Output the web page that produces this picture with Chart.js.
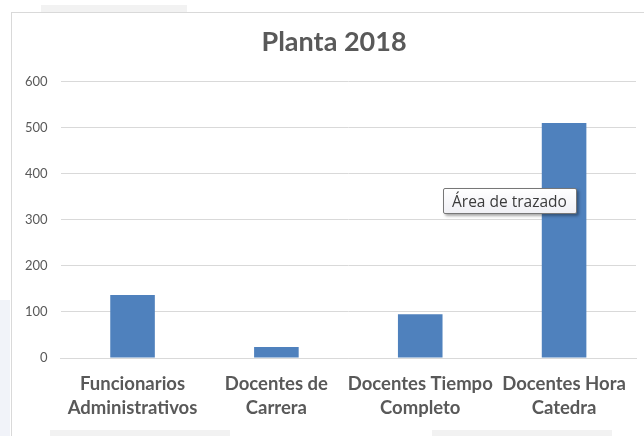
<!DOCTYPE html>
<html>
<head>
<meta charset="utf-8">
<script src="https://cdn.jsdelivr.net/npm/chart.js@4"></script>
<style>
  html, body { margin: 0; padding: 0; background: #fff; }
  #wrap { position: relative; width: 644px; height: 436px; overflow: hidden; background: #fff; }
  #frame { position: absolute; left: 11px; top: 12px; width: 700px; height: 500px; border: 1px solid #d9d9d9; box-sizing: border-box; }
  .strip { position: absolute; background: #f2f2f2; }
  #tip { position: absolute; left: 443px; top: 188px; height: 26px; padding: 0 9px 0 8px; box-sizing: border-box;
         border: 1px solid #777; border-radius: 2px; background: linear-gradient(#ffffff, #f0f0f5);
         box-shadow: 2px 2px 3px rgba(0,0,0,0.35); font: 15.5px "Open Sans", sans-serif; color: #3b3b3b;
         line-height: 24px; white-space: nowrap; }
  canvas { position: absolute; left: 0; top: 0; }
</style>
</head>
<body>
<div id="wrap">
  <div class="strip" style="left:41px;top:5px;width:146px;height:7px;"></div>
  <div class="strip" style="left:0px;top:300px;width:10px;height:136px;background:#f1f3f9;"></div>
  <div class="strip" style="left:50px;top:430px;width:180px;height:6px;"></div>
  <div class="strip" style="left:432px;top:430px;width:180px;height:6px;"></div>
  <div id="frame"></div>
  <canvas id="c" width="644" height="436"></canvas>
  <div id="tip">Área de trazado</div>
</div>
<script>
const categories = [
  ["Funcionarios", "Administrativos"],
  ["Docentes de", "Carrera"],
  ["Docentes Tiempo", "Completo"],
  ["Docentes Hora", "Catedra"]
];
const values = [137, 24, 95, 510];
const yTicks = [0, 100, 200, 300, 400, 500, 600];
const chartTitle = 'Planta 2018';

// Draw the title centred on the chart frame (the built-in title only reserves the space).
const shiftedTitle = {
  id: 'shiftedTitle',
  afterDraw(chart) {
    const t = chart.titleBlock;
    if (!t) return;
    const c = chart.ctx;
    c.save();
    c.fillStyle = '#595959';
    c.font = 'bold 27px Lato';
    c.textAlign = 'center';
    c.textBaseline = 'middle';
    c.fillText(chartTitle, 334, t.top + 8 + 27 * 1.2 / 2);
    c.restore();
  }
};

const ctx = document.getElementById('c');
new Chart(ctx, {
  type: 'bar',
  data: {
    labels: categories,
    datasets: [{
      label: chartTitle,
      data: values,
      backgroundColor: '#4f81bd',
      borderWidth: 0,
      barPercentage: 0.31,
      categoryPercentage: 1.0
    }]
  },
  plugins: [shiftedTitle],
  options: {
    responsive: false,
    animation: false,
    layout: { padding: { left: 12, right: 8, top: 18, bottom: 2 } },
    plugins: {
      legend: { display: false },
      tooltip: { enabled: false },
      title: {
        display: true,
        text: chartTitle,
        color: 'rgba(0,0,0,0)',
        font: { family: 'Lato', size: 27, weight: 'bold' },
        padding: { top: 8, bottom: 23 }
      }
    },
    scales: {
      x: {
        grid: { display: false, drawTicks: false },
        border: { display: true, color: '#d9d9d9' },
        ticks: {
          color: '#595959',
          font: { family: 'Lato', size: 18.5, weight: 'bold', lineHeight: 1.35 },
          padding: 13,
          maxRotation: 0,
          autoSkip: false
        }
      },
      y: {
        min: 0,
        max: 600,
        afterBuildTicks: (axis) => { axis.ticks = yTicks.map(v => ({ value: v })); },
        grid: { color: '#d9d9d9', drawTicks: false },
        border: { display: false },
        ticks: {
          color: '#595959',
          font: { family: 'Lato', size: 13 },
          padding: 13
        }
      }
    }
  }
});
</script>
</body>
</html>
